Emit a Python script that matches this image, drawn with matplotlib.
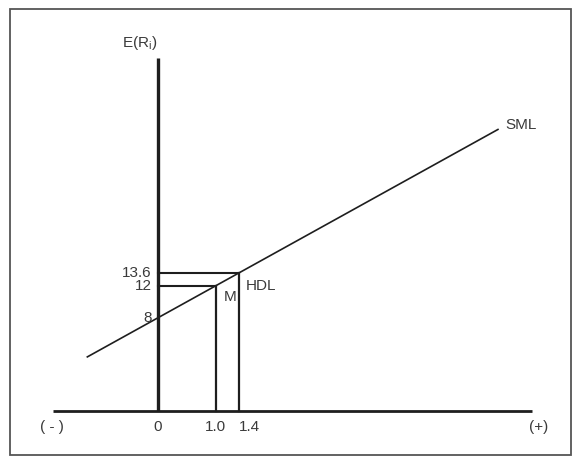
import matplotlib.pyplot as plt
from matplotlib.patches import Rectangle

plt.rcParams['font.family'] = ['Liberation Sans', 'DejaVu Sans']

# CAPM / security market line
rf = 8.0           # risk-free rate, E(R) at beta 0
rm = 12.0          # market return, beta 1.0
beta_m = 1.0
beta_hdl = 1.4
er_hdl = 13.6

y_ticks = [8, 12, 13.6]
y_tick_labels = ['8', '12', '13.6']
x_ticks = [0, 1.0, 1.4]
x_tick_labels = ['0', '1.0', '1.4']

sml_beta = [-1.21, 5.87]
axis_beta = [-1.80, 6.46]
axis_floor = -3.58      # where the schematic beta axis is drawn
axis_top = 40.4


def sml(b):
    return rf + (rm - rf) * b


ink = '#1e1e1e'
txt = '#3a3a3a'

fig = plt.figure(figsize=(5.73, 4.58), dpi=100)
ax = fig.add_axes([0, 0, 1, 1])
ax.set_xlim(-2.716, 7.164)
ax.set_ylim(-9.43, 47.6)
ax.axis('off')

# frame around the figure
fig.patches.append(Rectangle((10 / 573, 3 / 458), 561 / 573, 446 / 458,
                             transform=fig.transFigure, fill=False,
                             edgecolor='#555555', linewidth=1.3))

# axes
ax.plot(axis_beta, [axis_floor, axis_floor], color=ink, lw=2.0, solid_capstyle='butt')
ax.plot([0, 0], [axis_floor, axis_top], color=ink, lw=2.4, solid_capstyle='butt')

# SML
ax.plot(sml_beta, [sml(b) for b in sml_beta], color=ink, lw=1.2)

# guide lines for M and HDL
er_m = sml(beta_m)
ax.plot([0, beta_m], [er_m, er_m], color=ink, lw=1.5)
ax.plot([beta_m, beta_m], [axis_floor, er_m], color=ink, lw=1.6)
ax.plot([0, beta_hdl], [er_hdl, er_hdl], color=ink, lw=1.5)
ax.plot([beta_hdl, beta_hdl], [axis_floor, er_hdl], color=ink, lw=1.6)

fs = 11
for v, lab in zip(y_ticks, y_tick_labels):
    ax.annotate(lab, (0, v), xytext=(-4, 0), textcoords='offset points',
                ha='right', va='center', fontsize=fs, color=txt)
for v, lab in zip(x_ticks, x_tick_labels):
    ax.annotate(lab, (v, axis_floor), xytext=(0, -11.5), textcoords='offset points',
                ha='left' if v == beta_hdl else 'center', va='center',
                fontsize=fs, color=txt)

ax.annotate('( - )', (axis_beta[0], axis_floor), xytext=(-1, -11.5),
            textcoords='offset points', ha='center', va='center', fontsize=fs, color=txt)
ax.annotate('(+)', (axis_beta[1], axis_floor), xytext=(5, -11.5),
            textcoords='offset points', ha='center', va='center', fontsize=fs, color=txt)

ax.annotate('M', (beta_m, er_m), xytext=(6, -8), textcoords='offset points',
            ha='left', va='center', fontsize=fs, color=txt)
ax.annotate('HDL', (beta_hdl, er_hdl), xytext=(5, -9), textcoords='offset points',
            ha='left', va='center', fontsize=fs, color=txt)
ax.annotate('SML', (sml_beta[1], sml(sml_beta[1])), xytext=(5, 3), textcoords='offset points',
            ha='left', va='center', fontsize=fs, color=txt)
ax.annotate(r'E(R$_\mathregular{i}$)', (0, axis_top), xytext=(0, 11), textcoords='offset points',
            ha='right', va='center', fontsize=fs, color=txt)

fig.savefig('out.png', dpi=100)
